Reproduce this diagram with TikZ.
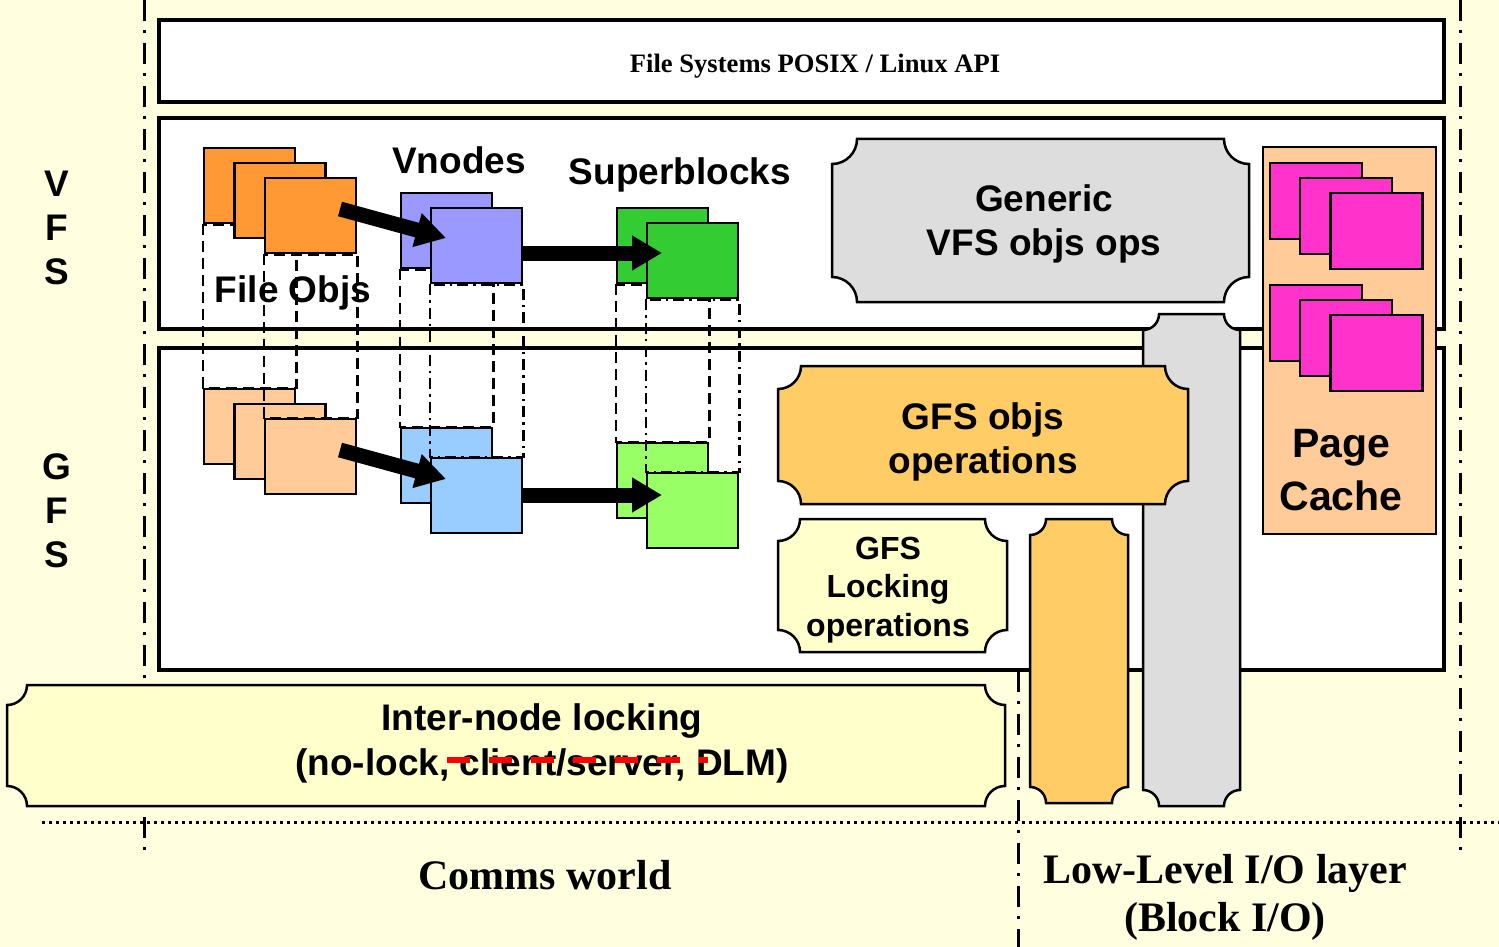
\documentclass[tikz,border=0pt]{standalone}
\usepackage{fontspec}
\setmainfont{Liberation Sans}
\newfontfamily\serifbold{Liberation Serif}
\usetikzlibrary{arrows.meta,calc}
\definecolor{bgyellow}{HTML}{FFFFDF}
\definecolor{lockyellow}{HTML}{FFFFCC}
\definecolor{plaqueorange}{HTML}{FFCC66}
\definecolor{greybox}{HTML}{DDDDDD}
\definecolor{fileorange}{HTML}{FF9933}
\definecolor{peach}{HTML}{FFCC99}
\definecolor{lavender}{HTML}{9999FF}
\definecolor{lightblue}{HTML}{99CCFF}
\definecolor{sbgreen}{HTML}{33CC33}
\definecolor{lightgreen}{HTML}{99FF66}
\definecolor{pagepink}{HTML}{FF33CC}
\newcommand\plaque[6]{%
 \path[#6] ({#1+#5},#2) -- ({#3-#5},#2)
  .. controls ({#3-#5},{#2+0.5523*#5}) and ({#3-0.5523*#5},{#2+#5}) .. (#3,{#2+#5})
  -- (#3,{#4-#5})
  .. controls ({#3-0.5523*#5},{#4-#5}) and ({#3-#5},{#4-0.5523*#5}) .. ({#3-#5},#4)
  -- ({#1+#5},#4)
  .. controls ({#1+#5},{#4-0.5523*#5}) and ({#1+0.5523*#5},{#4-#5}) .. (#1,{#4-#5})
  -- (#1,{#2+#5})
  .. controls ({#1+0.5523*#5},{#2+#5}) and ({#1+#5},{#2+0.5523*#5}) .. ({#1+#5},#2)
  -- cycle;}
\begin{document}
\begin{tikzpicture}[x=1pt,y=-1pt,
  bigbox/.style={draw, fill=white, line width=4pt, inner sep=0pt},
  objbox/.style={draw, line width=2.5pt, inner sep=0pt, minimum width=91pt, minimum height=75pt},
  pagebox/.style={draw, fill=pagepink, line width=2.5pt, inner sep=0pt, minimum width=92pt, minimum height=76pt},
  projdash/.style={line width=2.5pt, dash pattern=on 11pt off 6pt},
  projdashdot/.style={line width=2.5pt, dash pattern=on 11pt off 5pt on 2.5pt off 5pt},
  borderline/.style={line width=3pt, dash pattern=on 21pt off 9pt on 3pt off 10pt},
  dotline/.style={line width=3pt, dash pattern=on 3pt off 4pt},
  bigarrow/.style={line width=15pt, -{Triangle[length=30pt,width=33pt]}},
  plaqueline/.style={draw, line width=2.5pt},
  sanslabel/.style={font=\fontsize{37}{44}\selectfont\bfseries, align=center, inner sep=0pt},
  seriflabel/.style={font=\serifbold\fontsize{42}{48}\selectfont\bfseries, align=center, inner sep=0pt}
]
\useasboundingbox (0,0) rectangle (1499,947);
\fill[bgyellow] (0,0) rectangle (1499,947);

% frame lines
\coordinate (lt) at (144,0); \coordinate (lb) at (144,856);
\coordinate (rt) at (1460,0); \coordinate (rb) at (1460,856);
\coordinate (mt) at (1018,671); \coordinate (mb) at (1018,947);
\coordinate (dl) at (42,822); \coordinate (dr) at (1499,822);
\draw[borderline] (lt) -- (lb);
\draw[borderline] (rt) -- (rb);
\draw[borderline] (mt) -- (mb);
\draw[dotline] (dl) -- (dr);

% main boxes
\node[bigbox, minimum width=1285pt, minimum height=82pt] (api) at (801.5,61) {};
\node[font=\serifbold\fontsize{26.6}{30}\selectfont\bfseries, inner sep=0pt] (apitext) at (815,66) {File Systems POSIX / Linux API};
\node[bigbox, minimum width=1285pt, minimum height=211pt] (vfs) at (801.5,223.5) {};
\node[bigbox, minimum width=1285pt, minimum height=322pt] (gfs) at (801.5,509) {};

% side labels
\node[sanslabel] (vfslabel) at (57,228) {V\\F\\S};
\node[sanslabel] (gfslabel) at (57,511) {G\\F\\S};

% file objects
\node[objbox, fill=fileorange] (A1) at (249.5,185.5) {};
\node[objbox, fill=peach] (B1) at (249.5,426.5) {};
\draw[projdash] (A1.south west) rectangle (B1.north east);
\node[objbox, fill=fileorange] (A2) at (280,200.5) {};
\node[objbox, fill=peach] (B2) at (280,441.5) {};
\node[objbox, fill=fileorange] (A3) at (310.5,215.5) {};
\node[objbox, fill=peach] (B3) at (310.5,456.5) {};
\draw[projdash] (A3.south west) rectangle (B3.north east);

% vnodes
\node[objbox, fill=lavender] (V1) at (446.5,230.5) {};
\node[objbox, fill=lightblue] (GV1) at (446.5,465.5) {};
\draw[projdash] (V1.south west) rectangle (GV1.north east);
\node[objbox, fill=lavender] (V2) at (476.5,245.5) {};
\node[objbox, fill=lightblue] (GV2) at (476.5,495.5) {};
\draw[projdashdot] (V2.south west) rectangle (GV2.north east);

% superblocks
\node[objbox, fill=sbgreen] (S1) at (662.5,245.5) {};
\node[objbox, fill=lightgreen] (GS1) at (662.5,480.5) {};
\draw[projdash] (S1.south west) rectangle (GS1.north east);
\node[objbox, fill=sbgreen] (S2) at (692.5,260.5) {};
\node[objbox, fill=lightgreen] (GS2) at (692.5,510.5) {};
\draw[projdashdot] (S2.south west) rectangle (GS2.north east);

% arrows
\coordinate (fa) at (340,209); \coordinate (va) at (446,238);
\coordinate (vb) at (522,253); \coordinate (sb) at (662,253);
\coordinate (gfa) at (340,450); \coordinate (gva) at (446,479);
\coordinate (gvb) at (522,495); \coordinate (gsb) at (662,495);
\draw[bigarrow] (fa) -- (va);
\draw[bigarrow] (vb) -- (sb);
\draw[bigarrow] (gfa) -- (gva);
\draw[bigarrow] (gvb) -- (gsb);

% labels
\node[sanslabel] (vnodes) at (459,160) {Vnodes};
\node[sanslabel] (superblocks) at (680,175) {Superblocks};
\node[sanslabel] (fileobjs) at (293,293) {File Objs};

% generic VFS ops
\plaque{832}{139}{1249}{302}{25}{plaqueline, fill=greybox}
\node[sanslabel] (generic) at (1044,224) {Generic\\VFS objs ops};

% vertical bars
\plaque{1030}{519}{1128}{803}{16}{plaqueline, fill=plaqueorange}
\plaque{1143}{314}{1240}{806}{16}{plaqueline, fill=greybox}

% GFS objs operations
\plaque{778}{366}{1188}{504}{23}{plaqueline, fill=plaqueorange}
\node[sanslabel] (gfsops) at (983,442) {GFS objs\\operations};

% GFS locking
\plaque{778}{519}{1007}{652}{22}{plaqueline, fill=lockyellow}
\node[font=\fontsize{32}{38.5}\selectfont\bfseries, align=center, inner sep=0pt] (gfslock) at (888,590) {GFS\\Locking\\operations};

% page cache
\node[draw, fill=peach, line width=2.5pt, inner sep=0pt, minimum width=173pt, minimum height=387pt] (pagecache) at (1349.5,340.5) {};
\node[pagebox] (P1) at (1316,201) {};
\node[pagebox] (P2) at (1346,216) {};
\node[pagebox] (P3) at (1376.5,231) {};
\node[pagebox] (P4) at (1316,323) {};
\node[pagebox] (P5) at (1346,338) {};
\node[pagebox] (P6) at (1376.5,353) {};
\node[font=\fontsize{41}{53}\selectfont\bfseries, align=center, inner sep=0pt] (pctext) at (1341,470) {Page\\Cache};

% inter-node locking
\plaque{7}{685}{1005}{806}{20}{plaqueline, fill=lockyellow}
\node[sanslabel, font=\fontsize{37}{45}\selectfont\bfseries] (internode) at (542,743) {Inter-node locking\\(no-lock, client/server, DLM)};
\coordinate (sl) at (447,760); \coordinate (sr) at (708,760);
\draw[red, line width=6pt, dash pattern=on 23pt off 19pt] (sl) -- (sr);

% bottom labels
\node[seriflabel] (comms) at (545,875) {Comms world};
\node[seriflabel] (lowlevel) at (1225,897) {Low-Level I/O layer\\(Block I/O)};
\end{tikzpicture}
\end{document}
